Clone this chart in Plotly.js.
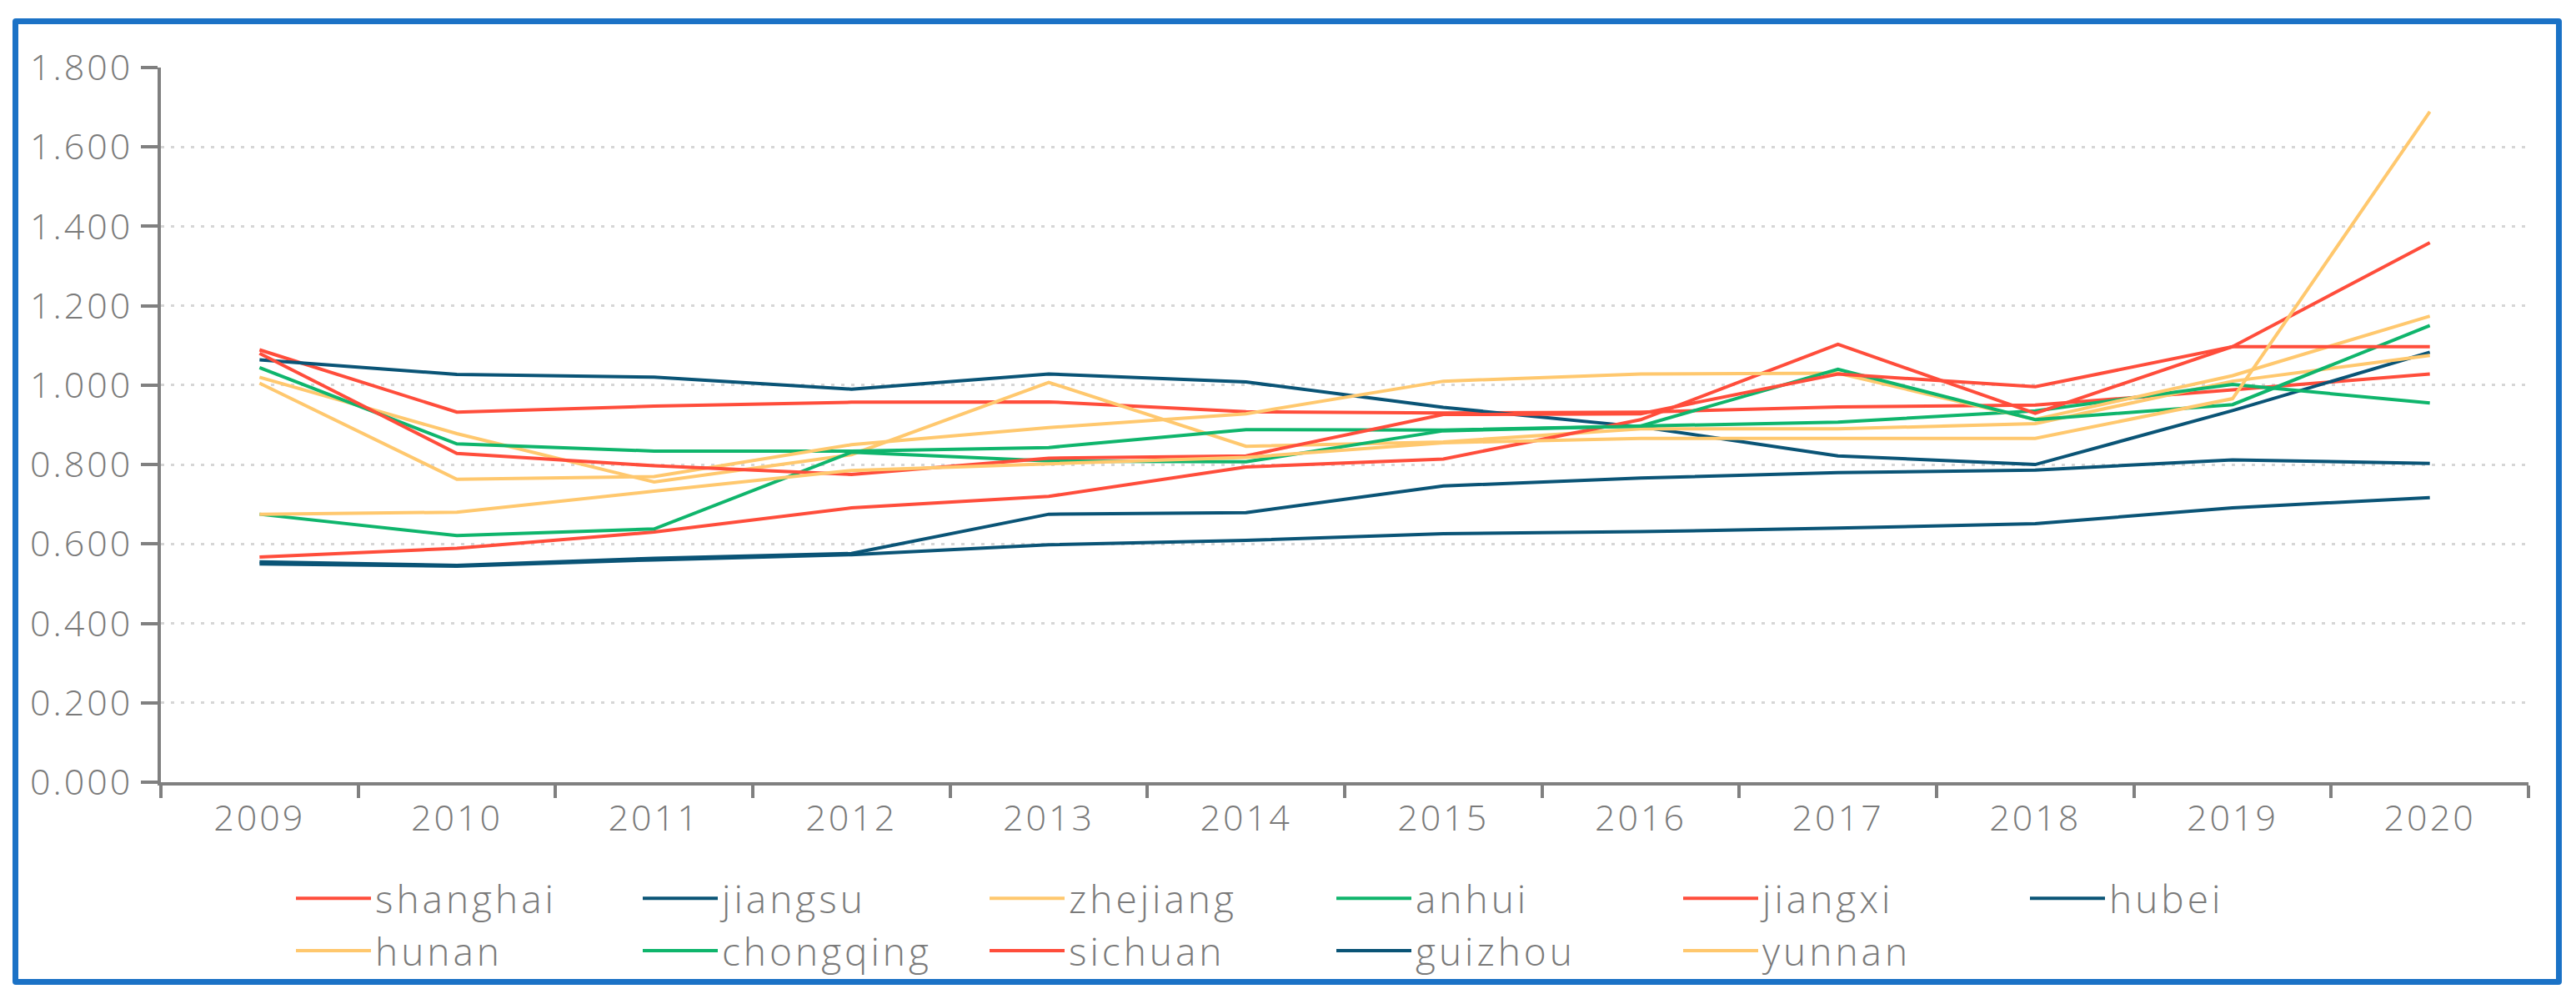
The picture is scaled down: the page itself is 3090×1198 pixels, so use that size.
<!DOCTYPE html>
<html>
<head>
<meta charset="utf-8">
<script src="https://cdn.plot.ly/plotly-3.0.1.min.js"></script>
<style>
  html, body { margin: 0; padding: 0; background: #ffffff; }
  #wrap { position: relative; width: 3090px; height: 1198px; overflow: hidden; }
  #chart { position: absolute; left: 0; top: 0; width: 3090px; height: 1198px; }
  #frame { position: absolute; left: 15px; top: 22px; width: 3058px; height: 1159px;
           box-sizing: border-box; border: 7px solid #1B72C6; border-radius: 4px; pointer-events: none; }
  #chart .legendtext { letter-spacing: 4px; }
  #chart .xtick text, #chart .ytick text { letter-spacing: 3px; }
</style>
</head>
<body>
<div id="wrap">
  <div id="chart"></div>
  <div id="frame"></div>
</div>
<script>
const years = ['2009','2010','2011','2012','2013','2014','2015','2016','2017','2018','2019','2020'];

const shanghai  = [1.089, 0.932, 0.947, 0.957, 0.958, 0.933, 0.930, 0.932, 0.945, 0.950, 0.988, 1.028];
const jiangsu   = [1.064, 1.027, 1.020, 0.990, 1.028, 1.008, 0.944, 0.895, 0.822, 0.800, 0.936, 1.083];
const zhejiang  = [1.020, 0.878, 0.756, 0.825, 1.007, 0.846, 0.857, 0.890, 0.890, 0.903, 1.010, 1.075];
const anhui     = [1.044, 0.852, 0.834, 0.834, 0.843, 0.888, 0.887, 0.898, 0.907, 0.935, 1.002, 0.955];
const jiangxi   = [0.567, 0.589, 0.630, 0.691, 0.720, 0.794, 0.814, 0.913, 1.103, 0.929, 1.097, 1.359];
const hubei     = [0.555, 0.546, 0.564, 0.576, 0.675, 0.679, 0.746, 0.766, 0.780, 0.786, 0.812, 0.803];
const hunan     = [1.005, 0.763, 0.770, 0.850, 0.893, 0.928, 1.010, 1.028, 1.030, 0.914, 1.024, 1.174];
const chongqing = [0.675, 0.621, 0.638, 0.831, 0.809, 0.807, 0.885, 0.897, 1.040, 0.913, 0.951, 1.150];
const sichuan   = [1.080, 0.828, 0.797, 0.775, 0.816, 0.822, 0.926, 0.928, 1.028, 0.996, 1.097, 1.097];
const guizhou   = [0.550, 0.544, 0.560, 0.573, 0.598, 0.609, 0.626, 0.631, 0.640, 0.651, 0.691, 0.717];
const yunnan    = [0.675, 0.680, 0.733, 0.785, 0.802, 0.818, 0.855, 0.866, 0.866, 0.866, 0.966, 1.689];

const seriesNames = ['shanghai','jiangsu','zhejiang','anhui','jiangxi','hubei','hunan','chongqing','sichuan','guizhou','yunnan'];
const seriesValues = [shanghai, jiangsu, zhejiang, anhui, jiangxi, hubei, hunan, chongqing, sichuan, guizhou, yunnan];

const RED = '#FF4D3B', BLUE = '#0A5476', YELLOW = '#FFC86E', GREEN = '#0FB56C';
const seriesColors = [RED, BLUE, YELLOW, GREEN, RED, BLUE, YELLOW, GREEN, RED, BLUE, YELLOW];

const yTicks = [0, 0.2, 0.4, 0.6, 0.8, 1.0, 1.2, 1.4, 1.6, 1.8];

const FONT = 'Open Sans, DejaVu Sans, sans-serif';
const TXT = '#7a7a7a';
const AX = '#808080';

const traces = seriesNames.map((n, i) => ({
  type: 'scatter',
  mode: 'lines',
  name: n,
  x: years,
  y: seriesValues[i],
  line: { color: seriesColors[i], width: 4 }
}));

const layout = {
  width: 3090,
  height: 1198,
  margin: { l: 193, r: 57, t: 81, b: 260 },
  paper_bgcolor: 'rgba(0,0,0,0)',
  plot_bgcolor: 'rgba(0,0,0,0)',
  showlegend: true,
  hovermode: false,
  font: { family: FONT, color: TXT, size: 40, weight: 300 },
  xaxis: {
    type: 'category',
    categoryorder: 'array',
    categoryarray: years,
    range: [-0.5, years.length - 0.5],
    showline: true,
    linecolor: AX,
    linewidth: 4,
    ticks: 'outside',
    tickson: 'boundaries',
    ticklen: 15,
    tickwidth: 4,
    tickcolor: AX,
    showgrid: false,
    zeroline: false,
    ticklabelstandoff: 2,
    tickfont: { family: FONT, size: 43, color: TXT, weight: 300 }
  },
  yaxis: {
    range: [0, 1.8],
    tickmode: 'array',
    tickvals: yTicks,
    tickformat: '.3f',
    showline: true,
    linecolor: AX,
    linewidth: 4,
    ticks: 'outside',
    ticklen: 20,
    tickwidth: 4,
    tickcolor: AX,
    showgrid: true,
    gridcolor: '#d6d6d6',
    gridwidth: 3,
    griddash: '4px,8px',
    zeroline: false,
    ticklabelstandoff: 1,
    tickfont: { family: FONT, size: 43, color: TXT, weight: 300 }
  },
  legend: {
    orientation: 'h',
    x: (350 - 193) / (3033 - 193),
    xanchor: 'left',
    y: -0.12,
    yanchor: 'top',
    entrywidth: 311,
    entrywidthmode: 'pixels',
    itemwidth: 90,
    bgcolor: 'rgba(0,0,0,0)',
    font: { family: FONT, size: 46, color: TXT, weight: 300 },
    traceorder: 'normal'
  }
};

Plotly.newPlot('chart', traces, layout, { displayModeBar: false, staticPlot: true });
</script>
</body>
</html>
